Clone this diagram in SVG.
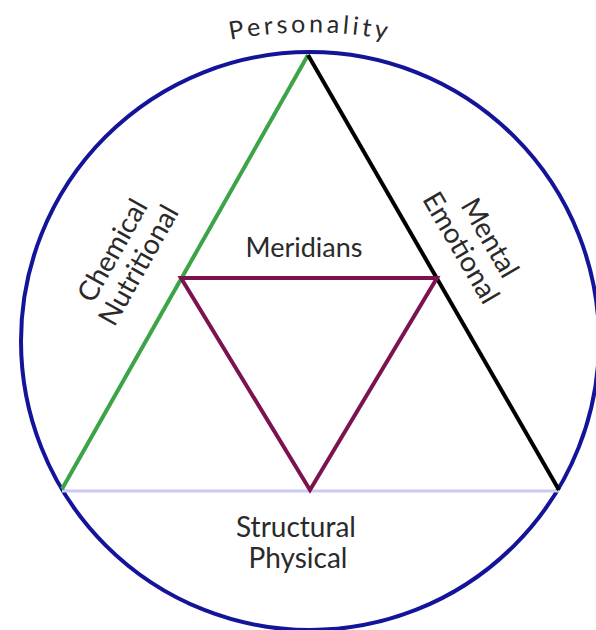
<svg xmlns="http://www.w3.org/2000/svg" width="596" height="630" viewBox="0 0 596 630">
<style>
.lbl{font-family:Lato,"Open Sans","DejaVu Sans",sans-serif;fill:#2a2a2a;text-anchor:middle}
</style>
<defs>
<path id="arcTop" d="M 150 64 A 420 420 0 0 1 470 64"/>
</defs>
<rect width="596" height="630" fill="#ffffff"/>
<g id="connectors">
<circle id="outer-circle" cx="310" cy="341" r="289" fill="none" stroke="#14149a" stroke-width="4"/>
<line x1="62" y1="491" x2="559" y2="491" stroke="#cccaf0" stroke-width="3"/>
<line x1="62" y1="489" x2="308" y2="55" stroke="#3ca447" stroke-width="4"/>
<line x1="308" y1="55" x2="559" y2="490" stroke="#000000" stroke-width="4"/>
<polygon points="181,278 437,278 310,490" fill="none" stroke="#7c1250" stroke-width="4" stroke-linejoin="miter"/>
</g>
<g id="personality">
<text class="lbl" font-size="25" letter-spacing="3.5"><textPath href="#arcTop" startOffset="50%">Personality</textPath></text>
</g>
<g id="chemical-nutritional">
<g transform="translate(126,258) rotate(-60.6)">
<text class="lbl" font-size="28" x="0" y="-6">Chemical</text>
<text class="lbl" font-size="28" x="0" y="24">Nutritional</text>
</g>
</g>
<g id="mental-emotional">
<g transform="translate(475,243) rotate(59.8)">
<text class="lbl" font-size="28" x="3" y="-6">Mental</text>
<text class="lbl" font-size="28" x="-3" y="24">Emotional</text>
</g>
</g>
<g id="meridians">
<text class="lbl" font-size="27" x="304" y="257">Meridians</text>
</g>
<g id="structural-physical">
<text class="lbl" font-size="28" x="296" y="537">Structural</text>
<text class="lbl" font-size="28" x="298" y="568">Physical</text>
</g>
</svg>
